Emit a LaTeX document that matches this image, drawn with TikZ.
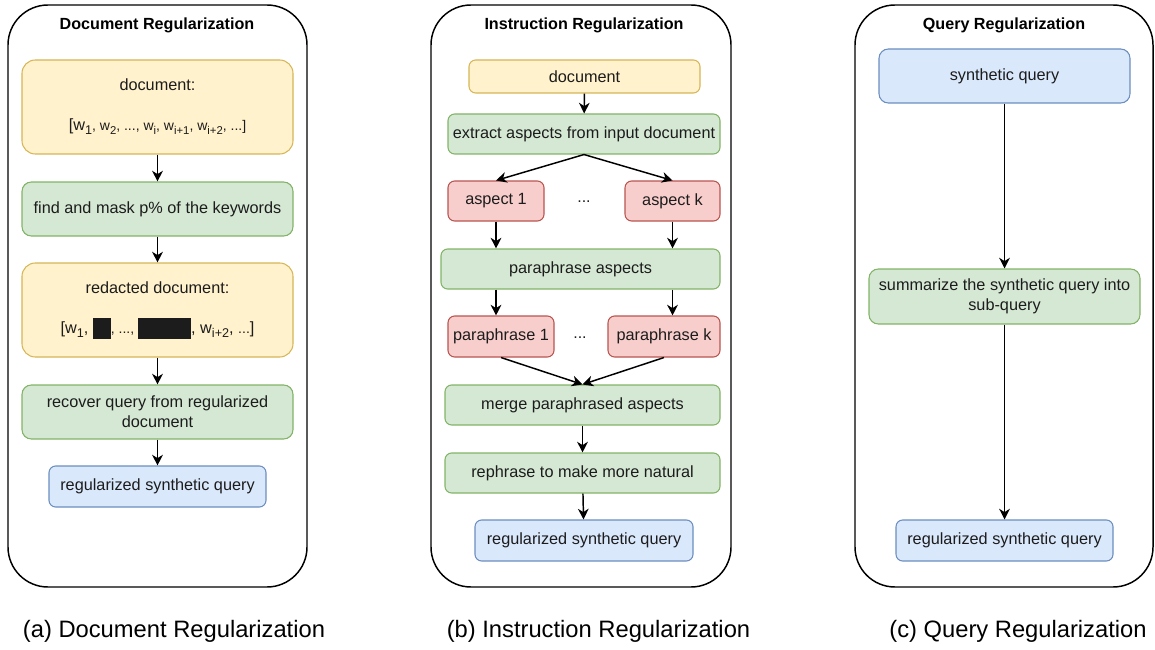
\documentclass[tikz,border=0pt]{standalone}
\usepackage{fontspec}
\setmainfont{Liberation Sans}
\usetikzlibrary{arrows.meta}
\definecolor{yfill}{HTML}{FFF2CC}\definecolor{ydraw}{HTML}{D6B656}
\definecolor{gfill}{HTML}{D5E8D4}\definecolor{gdraw}{HTML}{82B366}
\definecolor{rfill}{HTML}{F8CECC}\definecolor{rdraw}{HTML}{B85450}
\definecolor{bfill}{HTML}{DAE8FC}\definecolor{bdraw}{HTML}{6C8EBF}
\definecolor{txt}{HTML}{1C1C1C}
\newcommand\wsb[1]{\raisebox{-3pt}{\fontsize{9.5}{9.5}\selectfont #1}}
\newcommand\wss[1]{\raisebox{-2.5pt}{\fontsize{8.5}{8.5}\selectfont #1}}
\newcommand\smt{\fontsize{10.5}{15}\selectfont}
\begin{document}
\begin{tikzpicture}[x=0.75pt,y=-0.75pt,
  sz/.style 2 args={minimum width=#1*0.75pt, minimum height=#2*0.75pt},
  base/.style={rounded corners=5pt, line width=0.8pt, align=center, inner sep=0pt,
    font=\fontsize{12.2}{15}\selectfont, text=txt},
  ybox/.style={base, fill=yfill, draw=ydraw},
  gbox/.style={base, fill=gfill, draw=gdraw},
  rbox/.style={base, fill=rfill, draw=rdraw},
  bbox/.style={base, fill=bfill, draw=bdraw},
  panel/.style={draw=black, line width=1.1pt, rounded corners=30pt, inner sep=0pt},
  ttl/.style={font=\bfseries\fontsize{12.1}{15}\selectfont, text=black},
  dots/.style={font=\fontsize{12}{15}\selectfont, text=txt},
  captxt/.style={font=\fontsize{17.8}{22}\selectfont, text=black},
  arr/.style={-{Stealth[length=8pt,width=8pt,inset=2.5pt]}, line width=1.1pt}
]
\useasboundingbox (0,0) rectangle (1155,649);

% ---------- Panel A ----------
\node[panel, sz={299}{582}] (pa) at (157.5,296) {};
\node[ttl] (ta) at (157,25.5) {Document Regularization};
\node[ybox, rounded corners=10pt, sz={271}{94}] (a1) at (157.5,107)
  {document:\\[15pt]{[}w\wsb{1}{\smt, w\wss{2}, ..., w\wss{i}, w\wss{i+1}, w\wss{i+2}, ...]}};
\node[gbox, rounded corners=7pt, sz={271}{54}] (a2) at (157.5,209) {find and mask p\% of the keywords};
\node[ybox, rounded corners=10pt, sz={271}{94}] (a3) at (157.5,310)
  {redacted document:\\[15pt]{[}w\wsb{1}, \smash{\rule[-3.75pt]{13.5pt}{15.75pt}}{\smt, ..., }\smash{\rule[-3.75pt]{39.75pt}{15.75pt}}, w\wsb{i+2}, {\smt ...}{]}};
\node[gbox, rounded corners=7pt, sz={271}{54}] (a4) at (157.5,412) {recover query from regularized\\document};
\node[bbox, sz={217}{41}] (a5) at (157.5,486.5) {regularized synthetic query};
\draw[arr] (a1) -- (a2);
\draw[arr] (a2) -- (a3);
\draw[arr] (a3) -- (a4);
\draw[arr] (a4) -- (a5);

% ---------- Panel B ----------
\node[panel, sz={300}{582}] (pb) at (581,296) {};
\node[ttl] (tb) at (584,25.5) {Instruction Regularization};
\node[ybox, sz={231}{33}] (b1) at (584.5,76.5) {document};
\node[gbox, sz={272}{40}] (b2) at (584,134) {extract aspects from input document};
\node[rbox, sz={96}{40}] (b3) at (496,201) {aspect 1};
\node[rbox, sz={95}{40}] (b4) at (672.5,201) {aspect k};
\node[dots] (d1) at (584,202) {...};
\node[gbox, sz={279}{40}] (b5) at (580.5,269) {paraphrase aspects};
\node[rbox, sz={106}{41}] (b6) at (501,336.5) {paraphrase 1};
\node[rbox, sz={112}{41}] (b7) at (664,336.5) {paraphrase k};
\node[dots] (d2) at (580,338) {...};
\node[gbox, sz={275}{40}] (b8) at (582.5,405) {merge paraphrased aspects};
\node[gbox, sz={275}{40}] (b9) at (582.5,473) {rephrase to make more natural};
\node[bbox, sz={218}{41}] (b10) at (584,540.5) {regularized synthetic query};
\draw[arr] (b1) -- (b2);
\draw[arr] (b2.south) -- (b3.north);
\draw[arr] (b2.south) -- (b4.north);
\draw[arr] (b3.south) -- (b3.south |- b5.north);
\draw[arr] (b4.south) -- (b4.south |- b5.north);
\draw[arr] (b5.south -| b3.south) -- (b6.north -| b3.south);
\draw[arr] (b5.south -| b4.south) -- (b7.north -| b4.south);
\draw[arr] (b6.south) -- (b8.north);
\draw[arr] (b7.south) -- (b8.north);
\draw[arr] (b8) -- (b9);
\draw[arr] (b9) -- (b10);

% ---------- Panel C ----------
\node[panel, sz={298}{582}] (pc) at (1004,296) {};
\node[ttl] (tc) at (1004,25.5) {Query Regularization};
\node[bbox, rounded corners=7pt, sz={251}{54}] (c1) at (1004.5,76) {synthetic query};
\node[gbox, rounded corners=7pt, sz={271}{55}] (c2) at (1004.5,296.5) {summarize the synthetic query into\\sub-query};
\node[bbox, sz={217}{41}] (c3) at (1004.5,540.5) {regularized synthetic query};
\draw[arr] (c1) -- (c2);
\draw[arr] (c2) -- (c3);

% ---------- Captions ----------
\node[captxt] (ca) at (174,631.5) {(a) Document Regularization};
\node[captxt] (cb) at (598.5,631.5) {(b) Instruction Regularization};
\node[captxt] (cc) at (1018,631.5) {(c) Query Regularization};
\end{tikzpicture}
\end{document}
